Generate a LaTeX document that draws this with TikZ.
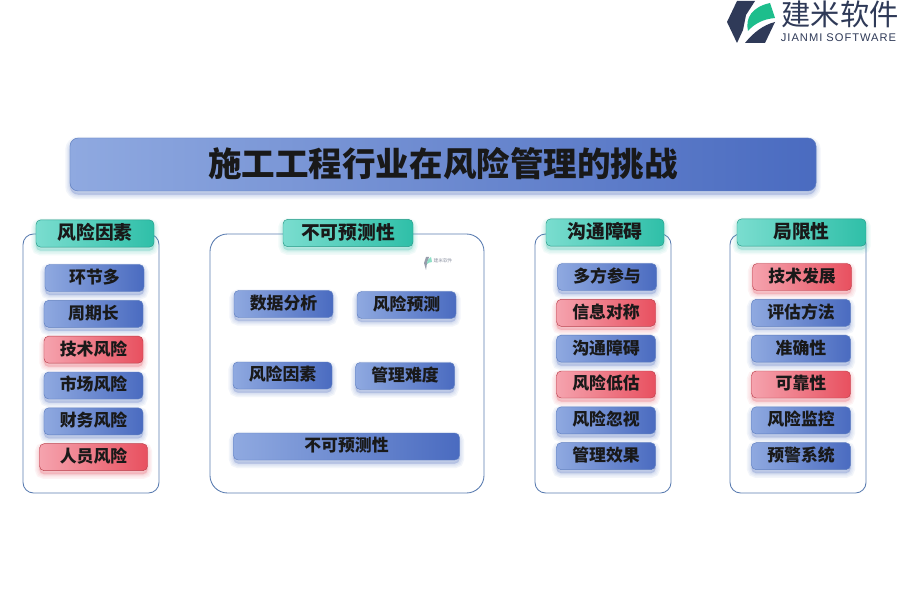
\documentclass[tikz,border=0pt]{standalone}
\usepackage{fontspec}
\setmainfont{Noto Sans CJK SC}
\newfontfamily\latinfont[LetterSpace=9]{Liberation Sans}
\usetikzlibrary{positioning,shadows}
\definecolor{boxl}{HTML}{8FA9E0}
\definecolor{boxd}{HTML}{4A6BC0}
\definecolor{boxline}{HTML}{5F7FC0}
\definecolor{redl}{HTML}{F5A3AE}
\definecolor{redd}{HTML}{E8505F}
\definecolor{tabl}{HTML}{7ADDCF}
\definecolor{tabd}{HTML}{2FBFA8}
\definecolor{panelline}{HTML}{5B7DB1}
\definecolor{logodark}{HTML}{2F3A58}
\definecolor{logogreen}{HTML}{1DBE8C}
\begin{document}
\begin{tikzpicture}[x=0.03cm,y=-0.03cm,node distance=1.075cm,
    soft layer/.style n args={2}{general shadow={fill=#1,draw=#1,line width=#2,opacity=.065,shadow xshift=0pt,shadow yshift=-3pt}},
    soft shadow/.style={soft layer={#1}{8pt},soft layer={#1}{5.5pt},soft layer={#1}{3pt},soft layer={#1}{1pt}},
    base box/.style={rectangle,rounded corners=4pt,inner sep=0pt,font=\fontsize{14.4}{16}\selectfont\bfseries,text=black!90,
      text height=11.5pt,text depth=2.2pt,
      minimum height=0.81cm,minimum width=2.97cm,shading angle=110},
    blue box/.style={base box,soft shadow=boxd,draw=boxline,left color=boxl,right color=boxd},
    red box/.style={base box,soft shadow=redd,draw=redd!80!black,left color=redl,right color=redd},
    tab box/.style={base box,soft shadow=tabd,draw=tabd!80!black,left color=tabl,right color=tabd,font=\fontsize{16}{18}\selectfont\bfseries,
      text height=13pt,text depth=2.4pt,minimum height=0.82cm},
    panel/.style={rectangle,draw=panelline,line width=0.75pt,rounded corners=9pt,fill=white,minimum height=7.77cm,minimum width=4.08cm,inner sep=0pt}]
    \useasboundingbox (0,0) rectangle (900,600);
    \fill[white] (0,0) rectangle (900,600);

    % title
    \node[blue box,minimum width=22.38cm,minimum height=1.59cm,text height=23pt,text depth=3pt,
      rounded corners=7pt,font=\fontsize{28.6}{32}\selectfont\bfseries] (title) at (443,164.5) {施工工程行业在风险管理的挑战};

    % panels
    \node[panel] (p1) at (91,363.5) {};
    \node[panel,minimum width=8.22cm,rounded corners=15pt] (p2) at (347,363.5) {};
    \node[panel] (p3) at (603,363.5) {};
    \node[panel] (p4) at (798,363.5) {};

    % tabs
    \node[tab box,minimum width=3.54cm] (t1) at (95,233.5) {风险因素};
    \node[tab box,minimum width=3.9cm] (t2) at (348,233) {不可预测性};
    \node[tab box,minimum width=3.54cm] (t3) at (605,232.5) {沟通障碍};
    \node[tab box,minimum width=3.87cm] (t4) at (801.5,232.5) {局限性};

    % first column
    \node[blue box] (a1) at (94.5,278) {环节多};
    \node[blue box] (a2) [below of=a1,xshift=-0.03cm] {周期长};
    \node[red box] (a3) [below of=a2] {技术风险};
    \node[blue box] (a4) [below of=a3] {市场风险};
    \node[blue box] (a5) [below of=a4] {财务风险};
    \node[red box,minimum width=3.24cm] (a6) [below of=a5] {人员风险};

    % second column
    \node[blue box] (b1) at (283.5,304) {数据分析};
    \node[blue box] (b2) at (406.5,305) {风险预测};
    \node[blue box] (b3) at (282.5,375.5) {风险因素};
    \node[blue box] (b4) at (405,376) {管理难度};
    \node[blue box,minimum width=6.78cm] (b5) at (346.5,446.5) {不可预测性};

    % third column
    \node[blue box] (c1) at (607,277) {多方参与};
    \node[red box] (c2) [below of=c1,xshift=-0.03cm] {信息对称};
    \node[blue box] (c3) [below of=c2] {沟通障碍};
    \node[red box] (c4) [below of=c3] {风险低估};
    \node[blue box] (c5) [below of=c4] {风险忽视};
    \node[blue box] (c6) [below of=c5] {管理效果};

    % fourth column
    \node[red box] (d1) at (802,277) {技术发展};
    \node[blue box] (d2) [below of=d1,xshift=-0.03cm] {评估方法};
    \node[blue box] (d3) [below of=d2] {准确性};
    \node[red box] (d4) [below of=d3] {可靠性};
    \node[blue box] (d5) [below of=d4] {风险监控};
    \node[blue box] (d6) [below of=d5] {预警系统};

    % logo
    \fill[logodark] (737,1) -- (755,1) -- (746,15) -- (743,30) -- (737,43) -- (727,22) -- cycle;
    \fill[logodark] (775,22) .. controls (763,25) and (753,33) .. (745,43) -- (765,43) -- cycle;
    \fill[logogreen] (748,31) .. controls (745,18) and (752,7) .. (770,3) -- (775,18) .. controls (763,19) and (754,24) .. (748,31) -- cycle;
    \node[text=logodark,font=\fontsize{25}{28}\selectfont] (logotext) at (840,14) {建米软件};
    \node[text=logodark,font=\fontsize{9.5}{11}\selectfont\latinfont] (logosub) at (838.5,38) {JIANMI SOFTWARE};

    % watermark
    \fill[logodark!50] (426,257) -- (429,257) -- (427,263) -- (426,270) -- (424,263) -- cycle;
    \fill[logogreen!50] (427,264) .. controls (427,260) and (429,258) .. (431,257) -- (432,262) .. controls (430,262) and (428,263) .. (427,264) -- cycle;
    \node[text=logodark!55,font=\fontsize{4}{4}\selectfont,inner sep=0pt] (marktext) at (443,261) {建米软件};
\end{tikzpicture}
\end{document}
